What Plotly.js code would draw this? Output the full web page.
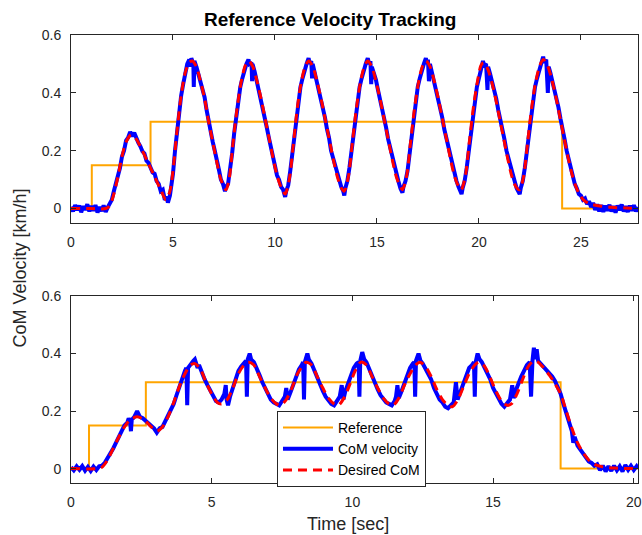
<!DOCTYPE html>
<html>
<head>
<meta charset="utf-8">
<script src="https://cdn.plot.ly/plotly-3.0.1.min.js"></script>
<style>html,body{margin:0;padding:0;background:#fff;}#chart{width:642px;height:535px;}</style>
</head>
<body>
<div id="chart"></div>
<script>
// ---------- Top subplot data ----------
const topRefT = [0, 1.02, 1.02, 3.9, 3.9, 24.08, 24.08, 27.8];
const topRefV = [0, 0, 0.15, 0.15, 0.3, 0.3, 0, 0];

const topDesT = [0, 1.0, 1.7, 1.9, 2.1, 2.3, 2.5, 2.7, 2.95, 3.2, 3.5, 3.8, 4.1, 4.4, 4.65, 4.85, 5.0, 5.2, 5.4, 5.6, 5.8, 5.95,
  6.15, 6.35, 6.55, 6.75, 6.95, 7.15, 7.35, 7.6, 7.75, 7.95, 8.15, 8.35, 8.55, 8.72,
  8.92, 9.12, 9.32, 9.52, 9.72, 9.92, 10.12, 10.32, 10.5, 10.7, 10.9, 11.1, 11.3, 11.5, 11.66,
  11.86, 12.06, 12.26, 12.46, 12.66, 12.86, 13.06, 13.26, 13.4, 13.6, 13.8, 14.0, 14.2, 14.4, 14.55,
  14.75, 14.95, 15.15, 15.35, 15.55, 15.75, 15.95, 16.15, 16.25, 16.45, 16.65, 16.85, 17.05, 17.25, 17.41,
  17.61, 17.81, 18.01, 18.21, 18.41, 18.61, 18.81, 19.01, 19.13, 19.33, 19.53, 19.73, 19.93, 20.1, 20.22,
  20.42, 20.62, 20.82, 21.02, 21.22, 21.42, 21.62, 21.82, 21.99, 22.19, 22.39, 22.59, 22.79, 22.99, 23.16,
  23.36, 23.56, 23.76, 23.96, 24.16, 24.36, 24.56, 24.76, 24.96, 25.2, 25.5, 26.0, 26.5, 27.2, 27.8];
const topDesV = [0, 0, 0, 0.01, 0.05, 0.11, 0.18, 0.23, 0.255, 0.24, 0.2, 0.155, 0.11, 0.065, 0.03, 0.06, 0.13, 0.27, 0.39, 0.47, 0.505, 0.51,
  0.49, 0.44, 0.38, 0.30, 0.23, 0.16, 0.10, 0.065, 0.1, 0.23, 0.35, 0.44, 0.495, 0.51,
  0.49, 0.44, 0.38, 0.31, 0.24, 0.17, 0.11, 0.07, 0.05, 0.1, 0.22, 0.35, 0.44, 0.495, 0.51,
  0.49, 0.44, 0.38, 0.31, 0.24, 0.17, 0.11, 0.07, 0.06, 0.11, 0.23, 0.35, 0.44, 0.495, 0.51,
  0.49, 0.44, 0.38, 0.31, 0.24, 0.17, 0.11, 0.075, 0.065, 0.11, 0.23, 0.35, 0.44, 0.495, 0.51,
  0.49, 0.44, 0.38, 0.31, 0.24, 0.17, 0.11, 0.075, 0.065, 0.11, 0.23, 0.35, 0.44, 0.495, 0.505,
  0.485, 0.44, 0.38, 0.31, 0.24, 0.17, 0.11, 0.075, 0.065, 0.11, 0.23, 0.35, 0.44, 0.495, 0.515,
  0.495, 0.45, 0.39, 0.32, 0.25, 0.18, 0.12, 0.075, 0.045, 0.025, 0.015, 0.008, 0.004, 0.002, 0];

const topComT = [0, 0.1, 0.2, 0.3, 0.4, 0.5, 0.6, 0.7, 0.8, 0.9, 1.0, 1.1, 1.2, 1.3, 1.4, 1.5, 1.6, 1.7, 1.8, 1.9,
  2.0, 2.1, 2.2, 2.3, 2.4, 2.5, 2.6, 2.7, 2.8, 2.9, 3.0, 3.1, 3.2, 3.3, 3.4, 3.5, 3.6, 3.7, 3.8, 3.9,
  4.0, 4.1, 4.2, 4.3, 4.4, 4.5, 4.6, 4.7, 4.75, 4.85, 5.0, 5.1, 5.2, 5.3, 5.4, 5.5, 5.6, 5.7, 5.8, 5.85, 5.9,
  6.0, 6.02, 6.05, 6.15, 6.25, 6.35, 6.45, 6.55, 6.65, 6.75, 6.85, 6.95, 7.05, 7.15, 7.25, 7.35, 7.45, 7.55, 7.6,
  7.7, 7.8, 7.9, 8.0, 8.1, 8.2, 8.3, 8.4, 8.5, 8.6, 8.7, 8.75, 8.85, 8.88, 8.9, 9.0, 9.1, 9.2, 9.3, 9.4, 9.5,
  9.6, 9.7, 9.8, 9.9, 10.0, 10.1, 10.2, 10.3, 10.4, 10.5, 10.55, 10.65, 10.75, 10.85, 10.95, 11.05, 11.15, 11.25,
  11.35, 11.45, 11.55, 11.65, 11.7, 11.78, 11.82, 11.85, 11.95, 12.05, 12.15, 12.25, 12.35, 12.45, 12.55, 12.65,
  12.75, 12.85, 12.95, 13.05, 13.15, 13.25, 13.35, 13.4, 13.45, 13.55, 13.65, 13.75, 13.85, 13.95, 14.05, 14.15,
  14.25, 14.35, 14.45, 14.55, 14.62, 14.68, 14.72, 14.75, 14.85, 14.95, 15.05, 15.15, 15.25, 15.35, 15.45, 15.55,
  15.65, 15.75, 15.85, 15.95, 16.05, 16.15, 16.25, 16.3, 16.4, 16.5, 16.6, 16.7, 16.8, 16.9, 17.0, 17.1, 17.2,
  17.3, 17.4, 17.45, 17.5, 17.55, 17.6, 17.7, 17.8, 17.9, 18.0, 18.1, 18.2, 18.3, 18.4, 18.5, 18.6, 18.7, 18.8,
  18.9, 19.0, 19.1, 19.15, 19.2, 19.3, 19.4, 19.5, 19.6, 19.7, 19.8, 19.9, 20.0, 20.1, 20.2, 20.25, 20.35, 20.42,
  20.45, 20.55, 20.65, 20.75, 20.85, 20.95, 21.05, 21.15, 21.25, 21.35, 21.45, 21.55, 21.65, 21.75, 21.85, 21.95,
  22.0, 22.05, 22.15, 22.25, 22.35, 22.45, 22.55, 22.65, 22.75, 22.85, 22.95, 23.05, 23.15, 23.2, 23.3, 23.38,
  23.42, 23.5, 23.6, 23.7, 23.8, 23.9, 24.0, 24.1, 24.2, 24.3, 24.4, 24.5, 24.6, 24.7, 24.8, 24.9, 25.0, 25.1,
  25.2, 25.3, 25.4, 25.5, 25.6, 25.7, 25.8, 25.9, 26.0, 26.1, 26.2, 26.3, 26.4, 26.5, 26.6, 26.7, 26.8, 26.9,
  27.0, 27.1, 27.2, 27.3, 27.4, 27.5, 27.6, 27.7, 27.8];
const topComV = [0.006, -0.01, 0.012, -0.006, 0.01, -0.013, 0.008, -0.004, 0.015, -0.01, 0.009, -0.008, 0.012, -0.014, 0.005, -0.009, 0.011, -0.012, 0.004, 0.015,
  0.03, 0.06, 0.085, 0.115, 0.14, 0.18, 0.2, 0.235, 0.245, 0.265, 0.25, 0.262, 0.24, 0.228, 0.215, 0.198, 0.19, 0.165, 0.158, 0.14,
  0.125, 0.12, 0.095, 0.085, 0.06, 0.065, 0.03, 0.04, 0.02, 0.045, 0.12, 0.2, 0.27, 0.33, 0.39, 0.43, 0.47, 0.5, 0.515, 0.49, 0.52,
  0.5, 0.42, 0.51, 0.49, 0.465, 0.445, 0.41, 0.385, 0.34, 0.3, 0.27, 0.23, 0.2, 0.16, 0.135, 0.1, 0.085, 0.06, 0.075,
  0.085, 0.13, 0.19, 0.26, 0.32, 0.37, 0.42, 0.45, 0.48, 0.5, 0.515, 0.5, 0.505, 0.44, 0.5, 0.475, 0.445, 0.41, 0.385, 0.35, 0.315,
  0.28, 0.245, 0.21, 0.175, 0.15, 0.115, 0.1, 0.075, 0.065, 0.04, 0.06, 0.08, 0.13, 0.19, 0.26, 0.32, 0.37, 0.42,
  0.45, 0.48, 0.5, 0.52, 0.5, 0.51, 0.45, 0.5, 0.47, 0.445, 0.41, 0.385, 0.345, 0.315, 0.275, 0.245,
  0.2, 0.175, 0.14, 0.115, 0.095, 0.075, 0.06, 0.045, 0.07, 0.095, 0.14, 0.2, 0.26, 0.32, 0.37, 0.42,
  0.45, 0.48, 0.5, 0.52, 0.5, 0.51, 0.43, 0.49, 0.47, 0.445, 0.41, 0.38, 0.35, 0.31, 0.28, 0.24,
  0.21, 0.17, 0.145, 0.11, 0.095, 0.07, 0.055, 0.075, 0.095, 0.13, 0.19, 0.26, 0.32, 0.37, 0.42, 0.45, 0.48,
  0.5, 0.52, 0.5, 0.515, 0.44, 0.5, 0.47, 0.445, 0.41, 0.385, 0.345, 0.315, 0.275, 0.245, 0.2, 0.175, 0.14, 0.115,
  0.095, 0.075, 0.06, 0.05, 0.07, 0.095, 0.14, 0.2, 0.26, 0.32, 0.37, 0.42, 0.45, 0.48, 0.51, 0.495, 0.5, 0.41,
  0.49, 0.465, 0.44, 0.405, 0.38, 0.34, 0.31, 0.27, 0.24, 0.2, 0.17, 0.14, 0.11, 0.095, 0.07, 0.06,
  0.05, 0.07, 0.095, 0.14, 0.2, 0.26, 0.32, 0.37, 0.42, 0.45, 0.48, 0.5, 0.525, 0.505, 0.515, 0.4,
  0.49, 0.47, 0.44, 0.42, 0.38, 0.35, 0.31, 0.28, 0.24, 0.2, 0.17, 0.14, 0.11, 0.085, 0.07, 0.05, 0.045, 0.03,
  0.035, 0.015, 0.025, 0.005, 0.02, -0.005, 0.015, -0.01, 0.012, -0.012, 0.01, -0.008, 0.013, -0.01, 0.008, -0.014, 0.01, -0.006,
  0.014, -0.01, 0.008, -0.012, 0.01, -0.008, 0.012, -0.01, 0.005];

// ---------- Bottom subplot data ----------
const botRefT = [0, 0.64, 0.64, 2.66, 2.66, 17.4, 17.4, 20.15];
const botRefV = [0, 0, 0.15, 0.15, 0.3, 0.3, 0, 0];

const botDesT = [0, 0.9, 1.1, 1.3, 1.5, 1.7, 1.9, 2.1, 2.35, 2.6, 2.85, 3.05, 3.25, 3.45, 3.65, 3.85, 4.05, 4.25, 4.4,
  4.6, 4.8, 5.0, 5.2, 5.35, 5.55, 5.75, 5.95, 6.15, 6.3, 6.5, 6.7, 6.9, 7.1, 7.3, 7.45, 7.65, 7.85, 8.05, 8.25, 8.35,
  8.55, 8.75, 8.95, 9.15, 9.35, 9.5, 9.7, 9.9, 10.1, 10.3, 10.5, 10.7, 10.9, 11.1, 11.3, 11.45, 11.65, 11.85, 12.05,
  12.25, 12.4, 12.6, 12.8, 13.0, 13.2, 13.4, 13.55, 13.75, 13.95, 14.15, 14.35, 14.5, 14.7, 14.9, 15.1, 15.3, 15.5,
  15.65, 15.85, 16.05, 16.25, 16.45, 16.6, 16.8, 17.0, 17.2, 17.4, 17.6, 17.8, 18.0, 18.2, 18.4, 18.6, 18.9, 19.3, 20.15];
const botDesV = [0, 0, 0.005, 0.03, 0.07, 0.11, 0.145, 0.17, 0.18, 0.17, 0.145, 0.13, 0.145, 0.18, 0.23, 0.285, 0.33, 0.36, 0.365,
  0.345, 0.3, 0.26, 0.23, 0.225, 0.24, 0.28, 0.33, 0.36, 0.37, 0.36, 0.32, 0.28, 0.245, 0.225, 0.22, 0.24, 0.28, 0.33, 0.36, 0.37,
  0.36, 0.32, 0.28, 0.245, 0.225, 0.22, 0.245, 0.29, 0.34, 0.37, 0.36, 0.32, 0.28, 0.245, 0.225, 0.22, 0.245, 0.29, 0.33,
  0.36, 0.37, 0.355, 0.32, 0.275, 0.24, 0.22, 0.215, 0.24, 0.285, 0.33, 0.36, 0.37, 0.355, 0.315, 0.27, 0.235, 0.22,
  0.225, 0.26, 0.31, 0.355, 0.375, 0.37, 0.35, 0.325, 0.295, 0.26, 0.2, 0.14, 0.09, 0.055, 0.03, 0.015, 0.006, 0.002, 0];

const botComT = [0, 0.1, 0.2, 0.3, 0.4, 0.5, 0.6, 0.7, 0.8, 0.9, 1.0, 1.1, 1.2, 1.3, 1.4, 1.5, 1.6, 1.7, 1.8, 1.9,
  2.0, 2.05, 2.1, 2.13, 2.16, 2.25, 2.35, 2.45, 2.55, 2.65, 2.75, 2.85, 2.95, 3.05, 3.15, 3.25, 3.35, 3.45, 3.55, 3.65,
  3.75, 3.85, 3.95, 4.0, 4.05, 4.1, 4.13, 4.16, 4.25, 4.35, 4.4, 4.5, 4.55, 4.65, 4.75, 4.85, 4.95, 5.05, 5.15, 5.25,
  5.35, 5.45, 5.5, 5.53, 5.58, 5.65, 5.75, 5.85, 5.95, 6.05, 6.15, 6.22, 6.25, 6.28, 6.35, 6.4, 6.5, 6.6, 6.7, 6.8,
  6.9, 7.0, 7.1, 7.2, 7.3, 7.4, 7.5, 7.6, 7.65, 7.7, 7.8, 7.9, 8.0, 8.1, 8.2, 8.25, 8.28, 8.31, 8.4, 8.45,
  8.55, 8.65, 8.75, 8.85, 8.95, 9.05, 9.15, 9.25, 9.35, 9.45, 9.55, 9.62, 9.68, 9.75, 9.85, 9.95, 10.05, 10.15, 10.22, 10.25,
  10.28, 10.35, 10.42, 10.5, 10.6, 10.7, 10.8, 10.9, 11.0, 11.1, 11.2, 11.3, 11.4, 11.5, 11.55, 11.6, 11.65, 11.75, 11.85, 11.95,
  12.05, 12.15, 12.2, 12.23, 12.26, 12.35, 12.42, 12.5, 12.6, 12.7, 12.8, 12.9, 13.0, 13.1, 13.2, 13.3, 13.4, 13.5, 13.6, 13.68,
  13.74, 13.85, 13.95, 14.05, 14.15, 14.25, 14.32, 14.35, 14.38, 14.45, 14.52, 14.6, 14.7, 14.8, 14.9, 15.0, 15.1, 15.2, 15.3, 15.4,
  15.5, 15.6, 15.68, 15.73, 15.8, 15.9, 16.0, 16.1, 16.2, 16.3, 16.35, 16.4, 16.45, 16.5, 16.55, 16.6, 16.7, 16.8, 16.9, 17.0,
  17.1, 17.2, 17.3, 17.4, 17.5, 17.6, 17.7, 17.8, 17.85, 17.9, 18.0, 18.1, 18.2, 18.3, 18.4, 18.5, 18.6, 18.7, 18.8, 18.9,
  19.0, 19.1, 19.2, 19.3, 19.4, 19.5, 19.6, 19.7, 19.8, 19.9, 20.0, 20.1, 20.15];
const botComV = [0.005, -0.006, 0.008, -0.004, 0.009, -0.007, 0.006, -0.008, 0.007, -0.005, 0.008, 0.01, 0.02, 0.035, 0.05, 0.07, 0.09, 0.11, 0.13, 0.15,
  0.16, 0.175, 0.165, 0.13, 0.17, 0.18, 0.2, 0.18, 0.175, 0.165, 0.16, 0.15, 0.14, 0.125, 0.14, 0.145, 0.165, 0.18, 0.2, 0.225,
  0.255, 0.285, 0.31, 0.335, 0.34, 0.35, 0.22, 0.35, 0.365, 0.375, 0.38, 0.35, 0.36, 0.33, 0.31, 0.29, 0.27, 0.25, 0.235, 0.23,
  0.24, 0.26, 0.29, 0.24, 0.22, 0.25, 0.28, 0.31, 0.34, 0.355, 0.37, 0.375, 0.25, 0.38, 0.4, 0.38, 0.37, 0.35, 0.325, 0.3,
  0.28, 0.26, 0.24, 0.23, 0.225, 0.22, 0.235, 0.25, 0.28, 0.24, 0.265, 0.29, 0.32, 0.345, 0.36, 0.37, 0.24, 0.37, 0.4, 0.38,
  0.365, 0.34, 0.315, 0.29, 0.27, 0.25, 0.235, 0.225, 0.22, 0.235, 0.25, 0.29, 0.24, 0.27, 0.3, 0.33, 0.35, 0.365, 0.37, 0.25,
  0.375, 0.405, 0.38, 0.37, 0.345, 0.32, 0.3, 0.275, 0.255, 0.24, 0.23, 0.225, 0.22, 0.235, 0.25, 0.29, 0.245, 0.27, 0.3, 0.33,
  0.35, 0.365, 0.37, 0.25, 0.375, 0.4, 0.375, 0.365, 0.345, 0.33, 0.31, 0.28, 0.26, 0.24, 0.23, 0.215, 0.21, 0.22, 0.23, 0.3,
  0.24, 0.27, 0.3, 0.33, 0.35, 0.36, 0.37, 0.25, 0.37, 0.4, 0.38, 0.37, 0.35, 0.33, 0.31, 0.28, 0.26, 0.24, 0.225, 0.215,
  0.225, 0.24, 0.29, 0.245, 0.27, 0.3, 0.32, 0.34, 0.36, 0.37, 0.25, 0.375, 0.42, 0.38, 0.415, 0.375, 0.365, 0.355, 0.345, 0.335,
  0.32, 0.305, 0.285, 0.26, 0.225, 0.19, 0.16, 0.13, 0.09, 0.11, 0.08, 0.065, 0.05, 0.04, 0.025, 0.02, 0.01, 0.015, -0.005, 0.01,
  -0.01, 0.008, -0.008, 0.01, -0.006, 0.008, -0.01, 0.012, -0.004, 0.01, -0.005, 0.008, 0.0];

const legendNames = ['Reference', 'CoM velocity', 'Desired CoM'];
const yTicks = [0, 0.2, 0.4, 0.6];
const topXTicks = [0, 5, 10, 15, 20, 25];
const botXTicks = [0, 5, 10, 15, 20];

// ---------- Styling ----------
const ORANGE = '#FFA500', BLUE = '#0000FF', RED = '#FF0000', AX = '#262626';
const FONT = 'Liberation Sans, Arial, Helvetica, sans-serif';

function refTrace(x, y, xa, ya, show) {
  return {x, y, xaxis: xa, yaxis: ya, type: 'scatter', mode: 'lines', name: legendNames[0],
    showlegend: show, line: {color: ORANGE, width: 2}};
}
function comTrace(x, y, xa, ya, show) {
  return {x, y, xaxis: xa, yaxis: ya, type: 'scatter', mode: 'lines', name: legendNames[1],
    showlegend: show, line: {color: BLUE, width: 4}};
}
function desTrace(x, y, xa, ya, show) {
  return {x, y, xaxis: xa, yaxis: ya, type: 'scatter', mode: 'lines', name: legendNames[2],
    showlegend: show, line: {color: RED, width: 3, dash: '9px,6px', shape: 'spline', smoothing: 0.8}};
}

const data = [
  refTrace(topRefT, topRefV, 'x', 'y', false),
  comTrace(topComT, topComV, 'x', 'y', false),
  desTrace(topDesT, topDesV, 'x', 'y', false),
  refTrace(botRefT, botRefV, 'x2', 'y2', true),
  comTrace(botComT, botComV, 'x2', 'y2', true),
  desTrace(botDesT, botDesV, 'x2', 'y2', true)
];

function axisBase() {
  return {showgrid: false, zeroline: false, showline: true, mirror: 'ticks', linecolor: AX, linewidth: 1,
    ticks: 'inside', ticklen: 5, tickcolor: AX, tickwidth: 1,
    tickfont: {family: FONT, size: 14, color: AX}};
}

const xTop = Object.assign(axisBase(), {anchor: 'y', range: [0, 27.8], tickvals: topXTicks, ticklabelstandoff: 6});
const yTop = Object.assign(axisBase(), {anchor: 'x', domain: [0.5804, 1], range: [-0.05, 0.6], tickvals: yTicks, ticklabelstandoff: 6});
const xBot = Object.assign(axisBase(), {anchor: 'y2', range: [0, 20.15], tickvals: botXTicks, ticklabelstandoff: 6});
const yBot = Object.assign(axisBase(), {anchor: 'x2', domain: [0, 0.4174], range: [-0.05, 0.6], tickvals: yTicks, ticklabelstandoff: 6});

const layout = {
  width: 642, height: 535,
  margin: {l: 71, r: 4, t: 35, b: 52},
  paper_bgcolor: '#ffffff', plot_bgcolor: '#ffffff',
  font: {family: FONT, color: AX},
  xaxis: xTop, yaxis: yTop, xaxis2: xBot, yaxis2: yBot,
  showlegend: true,
  legend: {x: 0.3633, y: 0.1607, xanchor: 'left', yanchor: 'top', xref: 'paper', yref: 'paper',
    bgcolor: '#ffffff', bordercolor: AX, borderwidth: 1, itemwidth: 50,
    font: {family: FONT, size: 14, color: '#000000'}, tracegroupgap: 0},
  annotations: [
    {text: 'Reference Velocity Tracking', xref: 'paper', yref: 'paper', x: 0.4568, y: 1.0335,
      xanchor: 'center', yanchor: 'middle', showarrow: false,
      font: {family: FONT, size: 19, color: '#000000', weight: 'bold'}},
    {text: 'CoM Velocity [km/h]', xref: 'paper', yref: 'paper', x: -0.09, y: 0.481, textangle: -90,
      xanchor: 'center', yanchor: 'middle', showarrow: false,
      font: {family: FONT, size: 18, color: AX}},
    {text: 'Time [sec]', xref: 'paper', yref: 'paper', x: 0.4885, y: -0.0915,
      xanchor: 'center', yanchor: 'middle', showarrow: false,
      font: {family: FONT, size: 18, color: AX}}
  ]
};

Plotly.newPlot('chart', data, layout, {displayModeBar: false, staticPlot: true});
</script>
</body>
</html>
